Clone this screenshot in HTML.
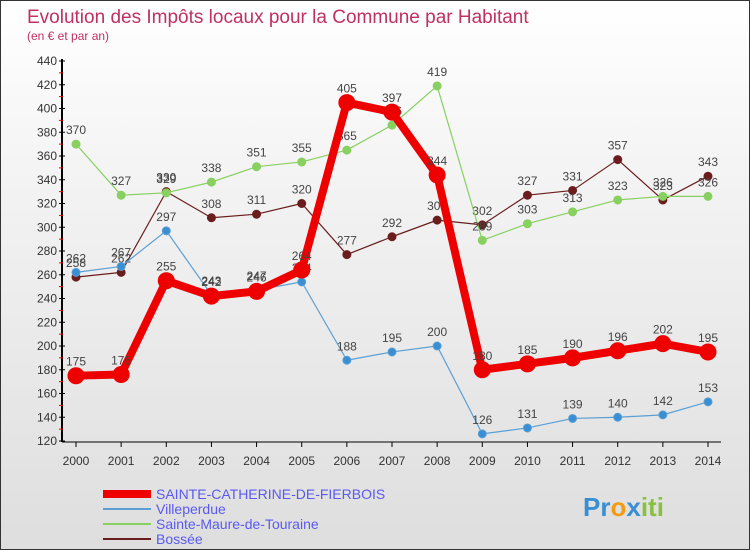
<!DOCTYPE html>
<html><head><meta charset="utf-8"><style>
body{margin:0}
#c{width:750px;height:550px;position:relative;overflow:hidden;font-family:"Liberation Sans",sans-serif;background:linear-gradient(#fff 0%,#f4f4f4 30%,#dedede 100%);box-sizing:border-box;border:1px solid #333}
</style></head><body>
<div id="c">
<svg id="s" width="750" height="550" style="position:absolute;left:0;top:0">
<text x="26" y="22" font-size="19" fill="#c03060">Evolution des Impôts locaux pour la Commune par Habitant</text>
<text x="26" y="39" font-size="12" fill="#c03060">(en € et par an)</text>
</svg>
</div>
<script>
const years=[2000,2001,2002,2003,2004,2005,2006,2007,2008,2009,2010,2011,2012,2013,2014];
const seriesNames=["SAINTE-CATHERINE-DE-FIERBOIS","Villeperdue","Sainte-Maure-de-Touraine","Bossée"];
const stc=[175,176,255,242,246,264,405,397,344,180,185,190,196,202,195];
const vil=[262,267,297,243,247,254,188,195,200,126,131,139,140,142,153];
const stm=[370,327,329,338,351,355,365,386,419,289,303,313,323,326,326];
const bos=[258,262,330,308,311,320,277,292,306,302,327,331,357,323,343];
const yTicks=[120,140,160,180,200,220,240,260,280,300,320,340,360,380,400,420,440];
const NS="http://www.w3.org/2000/svg",s=document.getElementById('s');
const X=i=>75+i*(707-75)/14, Y=v=>440-(v-120)*380/320;
function el(t,a,p){const e=document.createElementNS(NS,t);for(const k in a)e.setAttribute(k,a[k]);(p||s).appendChild(e);return e;}
const ax=el('g',{});


el('line',{x1:61,y1:58,x2:61,y2:441,stroke:'#000','stroke-width':2},ax);
el('line',{x1:61,y1:441,x2:720,y2:441,stroke:'#000','stroke-width':1},ax);
yTicks.forEach(v=>{
 el('line',{x1:58,x2:64,y1:Y(v),y2:Y(v),stroke:'#000'},ax);
 if(v<440) el('line',{x1:58,x2:62,y1:Y(v+10),y2:Y(v+10),stroke:'#e00'},ax);
 const t=el('text',{x:56,y:Y(v)+4,'font-size':12,fill:'#333','text-anchor':'end'},ax);t.textContent=v;
 
 
});
years.forEach((y,i)=>{
 el('line',{x1:X(i),x2:X(i),y1:441,y2:446,stroke:'#000'},ax);
 const t=el('text',{x:X(i),y:464,'font-size':12,fill:'#333','text-anchor':'middle'},ax);t.textContent=y;
 
 
});
function series(data,color,w,r,name,mfill){
 const g=el('g',{});
 
 
 el('polyline',{points:data.map((v,i)=>X(i)+','+Y(v)).join(' '),fill:'none',stroke:color,'stroke-width':w,'stroke-linejoin':'round'},g);
 data.forEach((v,i)=>{
  const c=el('circle',{cx:X(i),cy:Y(v),r:r,fill:mfill,stroke:color,'stroke-width':1},g);
  
  
  const t=el('text',{x:X(i),y:Y(v)-10,'font-size':12,fill:'#444','text-anchor':'middle'},g);t.textContent=v;
  
  
 });
}
series(bos,'#6b1d1d',1.2,4,'bossee-line','#6b1d1d');
series(stm,'#88d060',1.2,4,'sainte-maure-line','#88d060');
series(vil,'#5a9fd4',1.2,4,'villeperdue-line','#3a8fd4');
series(stc,'#ee0000',8,8,'sainte-catherine-line','#ee0000');
const leg=[[seriesNames[0],'#ee0000',8],[seriesNames[1],'#5a9fd4',2],[seriesNames[2],'#88d060',2],[seriesNames[3],'#6b1d1d',2]];
leg.forEach((l,i)=>{
 const g=el('g',{});
 
 
 const y=493+i*15;
 el('line',{x1:102,x2:150,y1:y,y2:y,stroke:l[1],'stroke-width':l[2]},g);
 const t=el('text',{x:155,y:y+5,'font-size':14,fill:'#5a5af0'},g);t.textContent=l[0];
});
const lg=el('text',{x:582,y:515,'font-size':26,'font-weight':'bold',fill:'#f39c12'});


lg.innerHTML='<tspan fill="#3a8fd4">Pr</tspan><tspan fill="#f39c12">o</tspan><tspan fill="#3a8fd4">x</tspan><tspan fill="#88c040">iti</tspan>';
</script>
</body></html>
